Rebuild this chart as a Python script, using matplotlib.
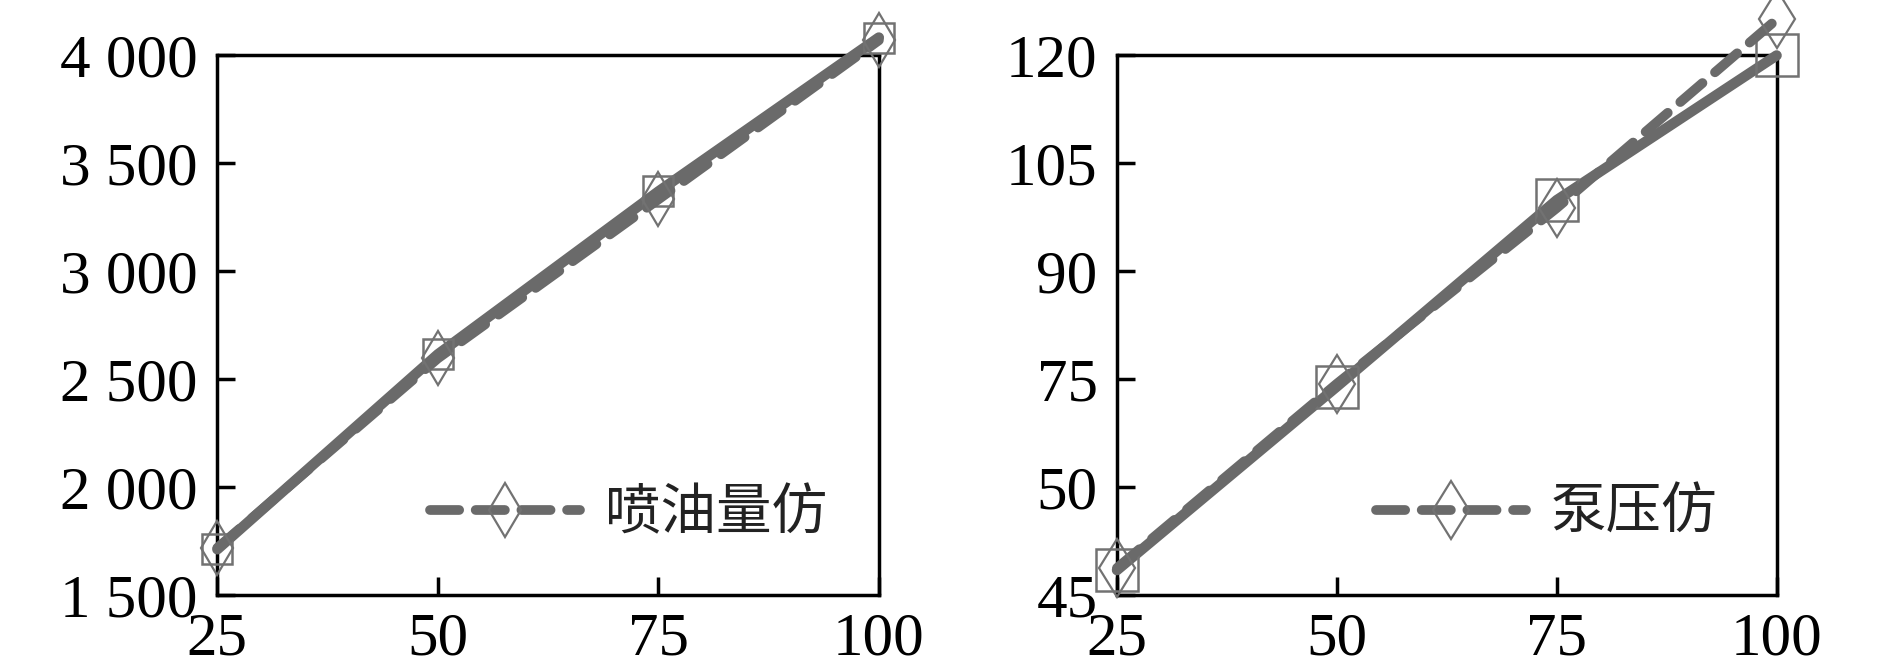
import matplotlib
matplotlib.use("Agg")
import matplotlib.pyplot as plt
from matplotlib.ticker import FixedLocator, FixedFormatter

# 数据
x_load = [25, 50, 75, 100]

fuel_meas = [1713, 2616, 3370, 4083]
fuel_sim = [1720, 2597, 3333, 4070]

press_meas = [48.5, 74.0, 99.9, 120.0]
press_sim = [48.8, 74.4, 98.8, 125.0]

fuel_ticks = [1500, 2000, 2500, 3000, 3500, 4000]
fuel_labels = ["1 500", "2 000", "2 500", "3 000", "3 500", "4 000"]
press_ticks = [45, 60, 75, 90, 105, 120]
press_labels = ["45", "50", "75", "90", "105", "120"]
x_labels = ["25", "50", "75", "100"]

LINE_C = "#6a6a6a"
MARK_C = "#727272"
SERIF = ["Liberation Serif", "DejaVu Serif"]
CJK = ["Noto Sans CJK SC", "DejaVu Sans"]

fig = plt.figure(figsize=(18.9, 6.6), dpi=100, facecolor="white")
ax1 = fig.add_axes([0.115, 0.098, 0.350, 0.818])
ax2 = fig.add_axes([0.591, 0.098, 0.349, 0.818])


def draw_panel(ax, meas, sim, ylim, yticks, ylabels, legend_text, legend_x, sq_size, dm_size):
    ax.plot(x_load, meas, color=LINE_C, lw=7.5, solid_capstyle="round", zorder=3,
            marker="s", ms=sq_size, mfc="none", mec=MARK_C, mew=1.8, clip_on=False)
    ax.plot(x_load, sim, color=LINE_C, lw=7.0, ls=(0, (3.0, 1.7)), dash_capstyle="round",
            zorder=4, marker="d", ms=dm_size, mfc="none", mec=MARK_C, mew=1.6,
            clip_on=False, label=legend_text)
    ax.set_xlim(25, 100)
    ax.set_ylim(*ylim)
    ax.xaxis.set_major_locator(FixedLocator([25, 50, 75, 100]))
    ax.xaxis.set_major_formatter(FixedFormatter(x_labels))
    ax.yaxis.set_major_locator(FixedLocator(yticks))
    ax.yaxis.set_major_formatter(FixedFormatter(ylabels))
    ax.tick_params(direction="in", length=13, width=2.5, top=False, right=False)
    ax.tick_params(axis="y", pad=14)
    ax.tick_params(axis="x", pad=12)
    for lab in ax.get_xticklabels() + ax.get_yticklabels():
        lab.set_fontfamily(SERIF)
        lab.set_fontsize(44)
    for sp in ax.spines.values():
        sp.set_linewidth(2.5)
        sp.set_color("black")
    leg = ax.legend(loc="center left", bbox_to_anchor=(legend_x, 0.152), frameon=False,
                    borderpad=0, borderaxespad=0, handlelength=2.7, handletextpad=0.45,
                    prop={"family": CJK, "size": 40})
    for t in leg.get_texts():
        t.set_color("#222222")


draw_panel(ax1, fuel_meas, fuel_sim, (1500, 4000), fuel_ticks, fuel_labels,
           "喷油量仿", 0.322, 22, 28)
draw_panel(ax2, press_meas, press_sim, (45, 120), press_ticks, press_labels,
           "泵压仿", 0.392, 30, 30)

fig.savefig("out.png", dpi=100, facecolor="white")
plt.close(fig)
